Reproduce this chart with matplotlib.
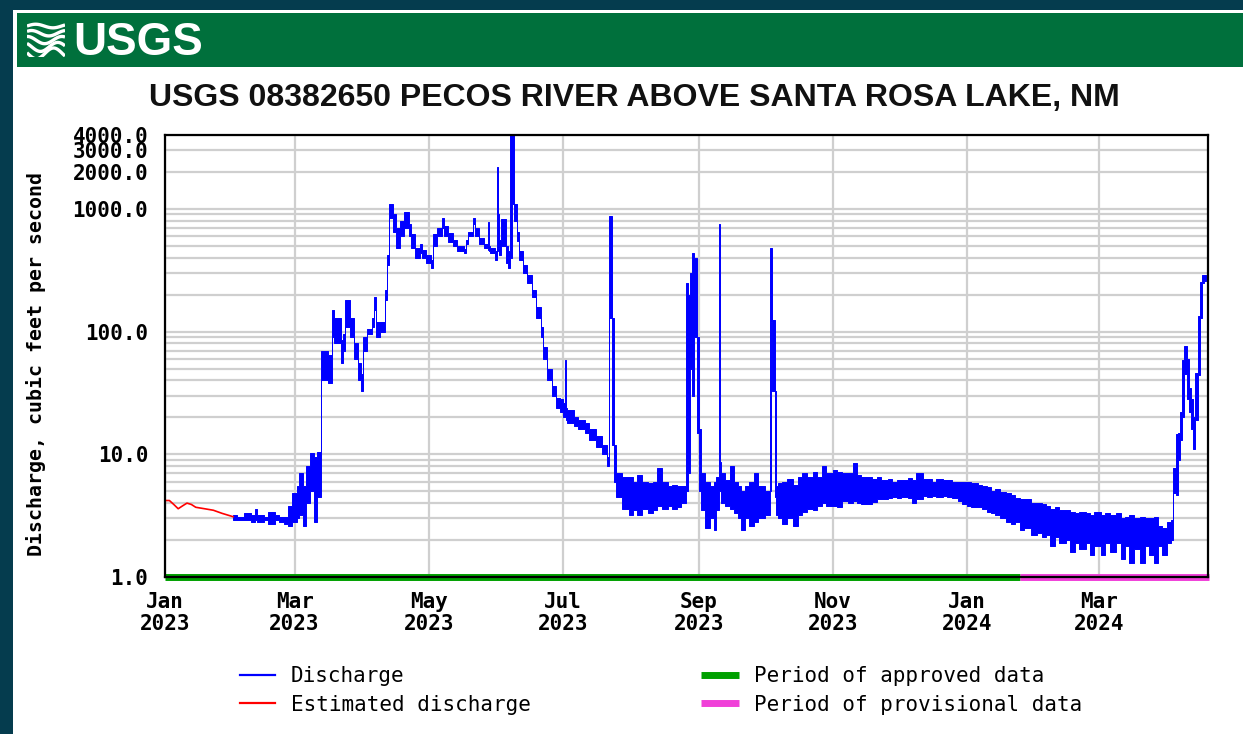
import matplotlib
matplotlib.use('Agg')
import matplotlib.pyplot as plt
import matplotlib.dates as mdates
from matplotlib.ticker import FixedLocator, LogLocator, NullFormatter, FuncFormatter
from matplotlib.patches import Rectangle
from matplotlib.lines import Line2D
import numpy as np
import pandas as pd

# ---------------- data ----------------
title = "USGS 08382650 PECOS RIVER ABOVE SANTA ROSA LAKE, NM"
y_label = "Discharge, cubic feet per second"

est_dates = ["2023-01-01", "2023-01-03", "2023-01-05", "2023-01-07", "2023-01-09", "2023-01-11",
             "2023-01-13", "2023-01-15", "2023-01-19", "2023-01-23", "2023-01-27", "2023-02-01"]
est_values = [4.2, 4.2, 3.9, 3.6, 3.8, 4.0, 3.9, 3.7, 3.6, 3.5, 3.3, 3.1]

# discharge: start of each step, with the low and high value reached in that step
dis_dates = [
    # Feb 2023
    "2023-02-01", "2023-02-03", "2023-02-06", "2023-02-09", "2023-02-11", "2023-02-12", "2023-02-15",
    "2023-02-17", "2023-02-20", "2023-02-22", "2023-02-24", "2023-02-26", "2023-02-28",
    # Mar 2023
    "2023-03-02", "2023-03-03", "2023-03-05", "2023-03-06", "2023-03-08", "2023-03-10", "2023-03-11",
    "2023-03-13", "2023-03-16", "2023-03-18", "2023-03-19", "2023-03-22", "2023-03-23", "2023-03-24",
    "2023-03-26", "2023-03-28", "2023-03-30", "2023-03-31",
    # Apr 2023
    "2023-04-01", "2023-04-03", "2023-04-05", "2023-04-06", "2023-04-07", "2023-04-09", "2023-04-11",
    "2023-04-12", "2023-04-13", "2023-04-15", "2023-04-16", "2023-04-18", "2023-04-20", "2023-04-22",
    "2023-04-23", "2023-04-25", "2023-04-27", "2023-04-28", "2023-04-30",
    # May 2023
    "2023-05-02", "2023-05-03", "2023-05-05", "2023-05-07", "2023-05-08", "2023-05-10", "2023-05-12",
    "2023-05-14", "2023-05-17", "2023-05-18", "2023-05-19", "2023-05-21", "2023-05-22", "2023-05-24",
    "2023-05-26", "2023-05-28", "2023-05-28T12:00", "2023-05-29", "2023-05-31",
    # Jun 2023
    "2023-06-01", "2023-06-01T12:00", "2023-06-02", "2023-06-03", "2023-06-05", "2023-06-06",
    "2023-06-07", "2023-06-08", "2023-06-09", "2023-06-10", "2023-06-11", "2023-06-13", "2023-06-15",
    "2023-06-17", "2023-06-19", "2023-06-21", "2023-06-22", "2023-06-24", "2023-06-26", "2023-06-28",
    "2023-06-30",
    # Jul 2023
    "2023-07-01", "2023-07-02", "2023-07-02T12:00", "2023-07-03", "2023-07-06", "2023-07-08",
    "2023-07-11", "2023-07-13", "2023-07-16", "2023-07-19", "2023-07-21", "2023-07-22T06:00",
    "2023-07-23T12:00", "2023-07-24T12:00", "2023-07-25T12:00", "2023-07-28", "2023-07-31",
    # Aug 2023
    "2023-08-02", "2023-08-04", "2023-08-06", "2023-08-09", "2023-08-11", "2023-08-13", "2023-08-15",
    "2023-08-18", "2023-08-20", "2023-08-22", "2023-08-24", "2023-08-26", "2023-08-27", "2023-08-28",
    "2023-08-29", "2023-08-30", "2023-08-31",
    # Sep 2023
    "2023-09-01", "2023-09-02", "2023-09-04", "2023-09-06", "2023-09-08", "2023-09-09", "2023-09-10",
    "2023-09-10T12:00", "2023-09-11", "2023-09-13", "2023-09-15", "2023-09-17", "2023-09-19",
    "2023-09-20", "2023-09-22", "2023-09-24", "2023-09-26", "2023-09-28", "2023-09-29",
    # Oct 2023
    "2023-10-01", "2023-10-03T12:00", "2023-10-04", "2023-10-04T12:00", "2023-10-05T12:00",
    "2023-10-06", "2023-10-07", "2023-10-09", "2023-10-11", "2023-10-14", "2023-10-16", "2023-10-18",
    "2023-10-20", "2023-10-23", "2023-10-25", "2023-10-27", "2023-10-29",
    # Nov 2023
    "2023-11-01", "2023-11-03", "2023-11-05", "2023-11-08", "2023-11-10", "2023-11-12", "2023-11-14",
    "2023-11-17", "2023-11-19", "2023-11-21", "2023-11-23", "2023-11-26", "2023-11-28", "2023-11-30",
    # Dec 2023
    "2023-12-02", "2023-12-05", "2023-12-07", "2023-12-09", "2023-12-12", "2023-12-14", "2023-12-16",
    "2023-12-18", "2023-12-21", "2023-12-23", "2023-12-25", "2023-12-28", "2023-12-30",
    # Jan 2024
    "2024-01-01", "2024-01-03", "2024-01-06", "2024-01-08", "2024-01-10", "2024-01-12", "2024-01-14",
    "2024-01-16", "2024-01-19", "2024-01-21", "2024-01-23", "2024-01-25", "2024-01-27", "2024-01-30",
    # Feb 2024
    "2024-02-02", "2024-02-04", "2024-02-06", "2024-02-08", "2024-02-10", "2024-02-12", "2024-02-15",
    "2024-02-17", "2024-02-19", "2024-02-21", "2024-02-24", "2024-02-26", "2024-02-28",
    # Mar 2024
    "2024-03-02", "2024-03-04", "2024-03-06", "2024-03-09", "2024-03-11", "2024-03-13", "2024-03-15",
    "2024-03-17", "2024-03-20", "2024-03-22", "2024-03-24", "2024-03-26", "2024-03-28", "2024-03-30",
    # Apr 2024
    "2024-04-01", "2024-04-03", "2024-04-04", "2024-04-05", "2024-04-06", "2024-04-07", "2024-04-08",
    "2024-04-09", "2024-04-10", "2024-04-11", "2024-04-12", "2024-04-13", "2024-04-14", "2024-04-15",
    "2024-04-16", "2024-04-17", "2024-04-18", "2024-04-19",
]
dis_low = [
    # Feb 2023
    2.9, 2.9, 2.9, 2.8, 2.9, 2.8, 2.9, 2.7, 2.9, 2.8, 2.7, 2.6, 2.8,
    # Mar 2023
    3.0, 3.2, 2.6, 4.0, 5.0, 2.8, 4.5, 40, 38, 90, 80, 55, 70, 110, 90, 60, 40, 33,
    # Apr 2023
    70, 95, 110, 150, 90, 100, 180, 350, 850, 650, 480, 600, 700, 600, 480, 400, 440, 400, 360,
    # May 2023
    330, 500, 600, 700, 600, 540, 500, 450, 440, 520, 600, 750, 600, 520, 480, 460, 450, 440, 380,
    # Jun 2023
    450, 480, 420, 500, 360, 330, 400, 1100, 800, 550, 380, 300, 250, 190, 130, 90, 60, 40, 30, 24, 22,
    # Jul 2023
    20, 20, 19, 18, 17, 16, 15, 13, 11.5, 10, 8, 130, 12, 6, 4.5, 3.6, 3.2,
    # Aug 2023
    3.5, 3.2, 3.6, 3.3, 3.5, 3.8, 3.6, 3.8, 3.6, 3.7, 4.0, 5, 7, 50, 30, 90, 15,
    # Sep 2023
    5, 3.5, 2.5, 3.0, 2.4, 3.5, 5, 5, 4.0, 3.8, 3.6, 3.3, 3.0, 2.4, 3.0, 2.6, 2.8, 3.0, 3.0,
    # Oct 2023
    3.2, 5, 120, 33, 4.5, 3.2, 3.0, 2.7, 3.0, 2.6, 3.2, 3.4, 3.6, 3.5, 3.8, 4.0, 3.8,
    # Nov 2023
    3.8, 3.7, 4.2, 4.0, 4.2, 4.0, 3.9, 3.9, 4.1, 4.3, 4.3, 4.4, 4.5, 4.4,
    # Dec 2023
    4.5, 4.4, 4.0, 4.3, 4.6, 4.5, 4.6, 4.5, 4.6, 4.5, 4.4, 4.2, 3.9,
    # Jan 2024
    3.8, 3.7, 3.7, 3.6, 3.4, 3.3, 3.2, 3.0, 2.8, 2.7, 2.8, 2.4, 2.5, 2.2,
    # Feb 2024
    2.3, 2.1, 2.2, 1.8, 2.1, 1.9, 2.0, 1.6, 1.9, 1.7, 1.9, 1.5, 1.8,
    # Mar 2024
    1.5, 1.9, 1.6, 1.9, 1.4, 1.8, 1.3, 1.7, 1.3, 1.8, 1.5, 1.3, 1.8, 1.5,
    # Apr 2024
    1.9, 2.0, 4.8, 4.7, 9, 13, 20, 45, 28, 22, 16, 11, 19, 44, 130, 250, 260, 260,
]
dis_high = [
    # Feb 2023
    3.2, 3.1, 3.3, 3.2, 3.6, 3.2, 3.1, 3.4, 3.2, 3.1, 3.1, 3.8, 4.8,
    # Mar 2023
    5.5, 7.0, 5.5, 8.0, 10.3, 9.5, 10.5, 70, 65, 150, 130, 85, 95, 180, 130, 80, 55, 45,
    # Apr 2023
    90, 105, 130, 190, 120, 120, 220, 420, 1100, 900, 700, 800, 950, 750, 620, 480, 520, 460, 420,
    # May 2023
    380, 620, 700, 850, 720, 640, 560, 500, 470, 560, 650, 850, 700, 580, 520, 780, 500, 480, 450,
    # Jun 2023
    2200, 900, 560, 820, 500, 450, 4500, 4500, 1100, 650, 450, 350, 290, 220, 160, 110, 75, 50, 36, 29, 28,
    # Jul 2023
    26, 59, 24, 23, 20, 19, 18, 16, 14, 12, 9.5, 870, 130, 12, 7, 6.5, 6.5,
    # Aug 2023
    6.0, 6.8, 6.0, 5.8, 6.0, 7.8, 6.0, 5.5, 5.6, 5.5, 5.5, 250, 200, 300, 440, 400, 91,
    # Sep 2023
    16, 7, 6.0, 5.5, 6.0, 6.5, 750, 8.7, 7.0, 6.2, 8.0, 6.0, 5.5, 5.0, 5.5, 6.0, 7.0, 5.5, 5.5,
    # Oct 2023
    5.0, 480, 480, 125, 33, 5.5, 5.8, 6.0, 6.3, 5.6, 6.5, 7.0, 6.5, 7.2, 6.5, 8.0, 7.0,
    # Nov 2023
    7.5, 7.2, 7.0, 7.0, 8.5, 6.8, 6.5, 6.5, 6.3, 6.5, 6.2, 6.3, 6.0, 6.2,
    # Dec 2023
    6.2, 6.4, 6.2, 7.0, 6.3, 6.3, 6.0, 6.3, 6.2, 6.2, 6.0, 6.0, 6.0,
    # Jan 2024
    5.9, 5.8, 5.6, 5.5, 5.4, 5.0, 5.2, 4.9, 4.8, 4.7, 4.4, 4.3, 4.3, 4.0,
    # Feb 2024
    4.0, 3.9, 3.8, 3.6, 3.7, 3.5, 3.5, 3.4, 3.3, 3.4, 3.3, 3.2, 3.4,
    # Mar 2024
    3.2, 3.3, 3.2, 3.3, 3.0, 3.1, 3.2, 3.0, 3.1, 3.0, 3.0, 3.1, 2.6, 2.5,
    # Apr 2024
    2.8, 2.9, 7.7, 14.5, 15, 22, 59, 76, 60, 35, 28, 20, 46, 135, 255, 290, 290, 290,
]

approved_period = ["2023-01-01", "2024-01-25"]
provisional_period = ["2024-01-25", "2024-04-20"]
x_range = ["2023-01-01T00:00", "2024-04-19T18:00"]
x_tick_dates = ["2023-01-01", "2023-03-01", "2023-05-01", "2023-07-01", "2023-09-01",
                "2023-11-01", "2024-01-01", "2024-03-01"]
y_tick_values = [1.0, 10.0, 100.0, 1000.0, 2000.0, 3000.0, 4000.0]
legend_labels_left = ["Discharge", "Estimated discharge"]
legend_labels_right = ["Period of approved data", "Period of provisional data"]

# ---------------- style ----------------
W, H = 1243, 734
BORDER = '#053c4e'
USGS_GREEN = '#00703c'
BLUE = '#0000ff'
RED = '#ff0000'
APPROVED = '#00a000'
PROVISIONAL = '#f040d8'
GRID = '#cfcfcf'
MONO = 'DejaVu Sans Mono'

fig = plt.figure(figsize=(W / 100, H / 100), dpi=100, facecolor=BORDER)

# white panel and header bar
fig.add_artist(Rectangle((13 / W, 0), (W - 13) / W, (H - 10) / H, transform=fig.transFigure,
                         facecolor='white', edgecolor='none', zorder=0))
fig.add_artist(Rectangle((17 / W, 1 - 67 / H), (W - 17) / W, 54 / H, transform=fig.transFigure,
                         facecolor=USGS_GREEN, edgecolor='none', zorder=1))

# logo: waves + USGS letters
logo_ax = fig.add_axes([27 / W, 1 - 57 / H, 38 / W, 36 / H])
logo_ax.set_zorder(3)
logo_ax.set_axis_off()
logo_ax.patch.set_alpha(0)
logo_ax.set_xlim(0, 1)
logo_ax.set_ylim(0, 1)
tt = np.linspace(0, 1, 60)
for k, off in enumerate([0.86, 0.66, 0.47, 0.28, 0.1]):
    amp = 0.05 + 0.025 * k
    logo_ax.plot(tt, off + amp * np.sin(2 * np.pi * (tt * 1.1 + 0.12 * k)), color='white',
                 lw=2.4, solid_capstyle='butt')
fig.text(73 / W, 1 - 43 / H, "USGS", color='white', fontsize=33, fontweight='bold',
         family=['Liberation Sans Narrow', 'Liberation Sans', 'DejaVu Sans'],
         ha='left', va='center', zorder=4)

# title
fig.text(634 / W, 1 - 98 / H, title, ha='center', va='center', fontsize=23, fontweight='bold',
         family=['Liberation Sans', 'DejaVu Sans'], color='#111111')

# ---------------- main axes ----------------
ax = fig.add_axes([165 / W, 1 - 577 / H, (1208 - 165) / W, (577 - 135) / H])
ax.set_facecolor('white')

est_d = pd.to_datetime(est_dates)
dis_d = pd.to_datetime(dis_dates, format='ISO8601')

ax.fill_between(dis_d, dis_low, dis_high, step='post', facecolor=BLUE, edgecolor=BLUE,
                linewidth=0.7, zorder=3)
ax.plot(est_d, est_values, color=RED, lw=1.2, zorder=3)

ax.plot(pd.to_datetime(approved_period), [1, 1], color=APPROVED, lw=5, clip_on=False,
        solid_capstyle='butt', zorder=4)
ax.plot(pd.to_datetime(provisional_period), [1, 1], color=PROVISIONAL, lw=5, clip_on=False,
        solid_capstyle='butt', zorder=4)

ax.set_yscale('log')
ax.set_ylim(1, 4000)
ax.set_xlim(pd.to_datetime(x_range, format='ISO8601'))

ax.yaxis.set_major_locator(FixedLocator(y_tick_values))
ax.yaxis.set_major_formatter(FuncFormatter(lambda v, p: f"{v:.1f}"))
ax.yaxis.set_minor_locator(LogLocator(base=10, subs=np.arange(2, 10), numticks=20))
ax.yaxis.set_minor_formatter(NullFormatter())

ax.xaxis.set_major_locator(FixedLocator(mdates.date2num(pd.to_datetime(x_tick_dates))))
ax.xaxis.set_major_formatter(mdates.DateFormatter('%b\n%Y'))

ax.grid(True, which='major', axis='both', color=GRID, lw=1.6, zorder=1)
ax.grid(True, which='minor', axis='y', color=GRID, lw=1.6, zorder=1)
ax.set_axisbelow(True)

ax.tick_params(axis='both', which='both', length=0)
ax.tick_params(axis='y', pad=12)
ax.tick_params(axis='x', pad=11)
for lbl in ax.get_xticklabels() + ax.get_yticklabels():
    lbl.set_family(MONO)
    lbl.set_fontweight('bold')
    lbl.set_fontsize(15)
for lbl in ax.get_xticklabels():
    lbl.set_linespacing(1.08)

for s in ax.spines.values():
    s.set_color('black')
    s.set_linewidth(1.6)
    s.set_zorder(5)

ax.set_ylabel(y_label, family=MONO, fontweight='bold', fontsize=14.3)
ax.yaxis.set_label_coords(-0.114, 0.483)

# ---------------- legends ----------------
prop = dict(family=MONO, size=15)
h_left = [Line2D([], [], color=BLUE, lw=1.6), Line2D([], [], color=RED, lw=1.6)]
h_right = [Line2D([], [], color=APPROVED, lw=5, solid_capstyle='butt'),
           Line2D([], [], color=PROVISIONAL, lw=5, solid_capstyle='butt')]
common = dict(loc='upper left', frameon=False, prop=prop, handletextpad=0.75,
              labelspacing=0.42, borderpad=0, borderaxespad=0)
fig.legend(h_left, legend_labels_left, bbox_to_anchor=(240 / W, 1 - 666 / H),
           handlelength=1.7, **common)
fig.legend(h_right, legend_labels_right, bbox_to_anchor=(701 / W, 1 - 666 / H),
           handlelength=1.8, **common)

fig.savefig('out.png', dpi=100, facecolor=fig.get_facecolor())
